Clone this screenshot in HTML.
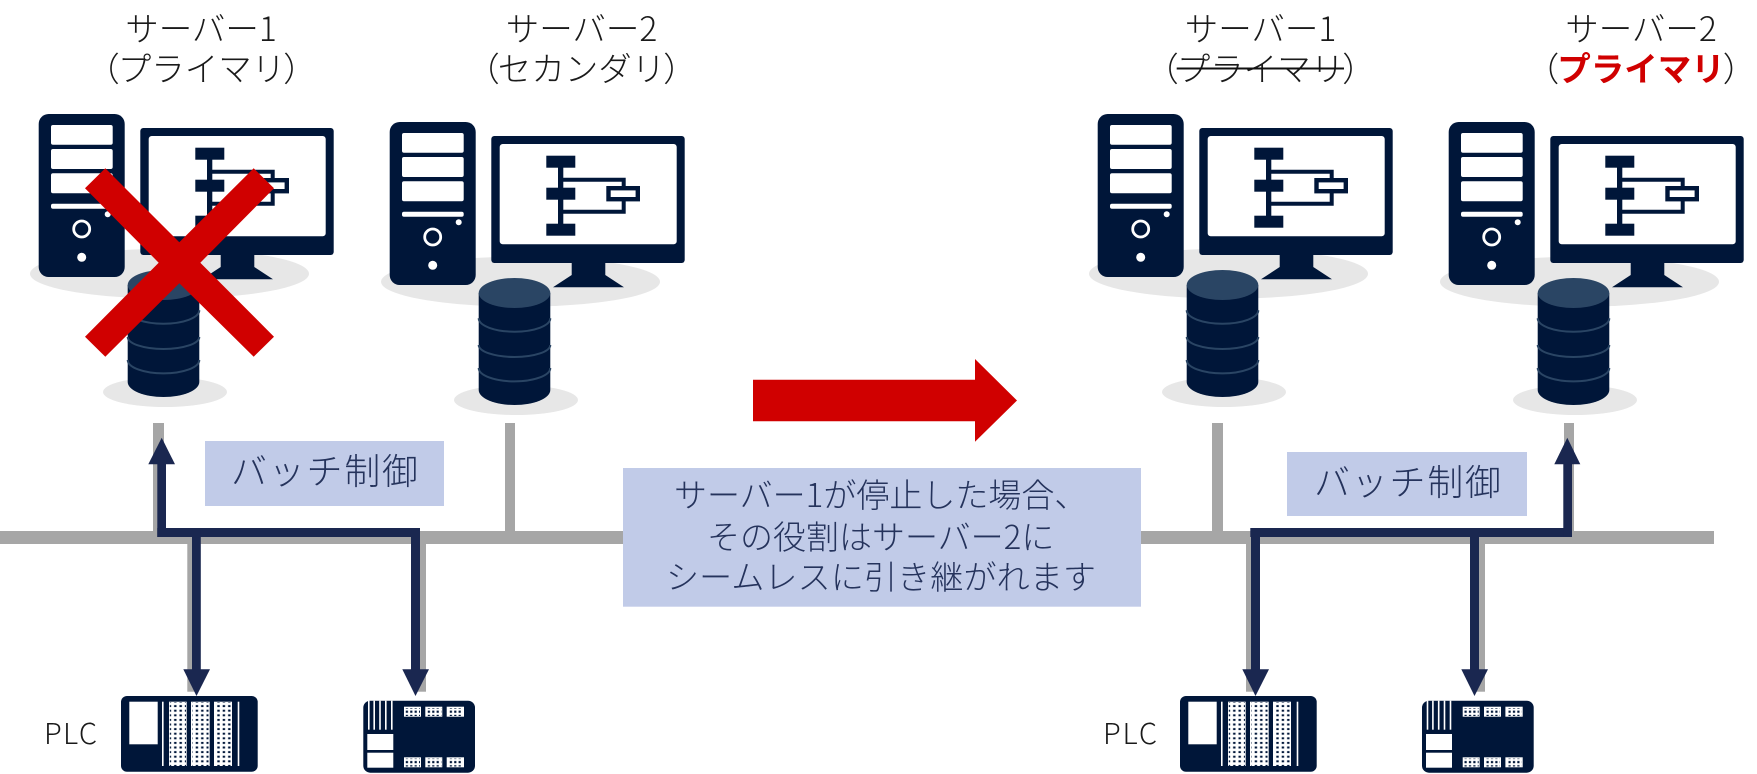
<!DOCTYPE html>
<html lang="ja"><head><meta charset="utf-8"><style>
html,body{margin:0;padding:0;background:#fff;width:1757px;height:774px;overflow:hidden}
svg{display:block}
text{font-family:"Noto Sans CJK JP","Liberation Sans",sans-serif;font-weight:300}
.t{font-size:33.5px;fill:#1a1a1a;text-anchor:middle}
.b{font-size:33px;fill:#25335c}
.c{font-size:36px;fill:#25335c}
</style></head><body>
<svg width="1757" height="774" viewBox="0 0 1757 774" xmlns="http://www.w3.org/2000/svg">
<defs>
<pattern id="g1" x="0" y="0" width="5.4" height="4.6" patternUnits="userSpaceOnUse"><rect x="1.3" y="1.3" width="2.4" height="2" fill="#001639"/></pattern>
<pattern id="g2" x="0" y="0" width="4.4" height="4.2" patternUnits="userSpaceOnUse"><rect x="1" y="0.8" width="2.2" height="2.2" fill="#001639"/></pattern>
<g id="srv">
<ellipse cx="169.5" cy="273.7" rx="139.5" ry="25" fill="#e7e7e7"/>
<ellipse cx="165" cy="392" rx="62" ry="15" fill="#e7e7e7"/>
<rect x="38.7" y="114" width="86" height="163" rx="10" fill="#001639"/>
<g fill="#fff">
<rect x="51" y="125" width="61.7" height="19.7" rx="2"/>
<rect x="51" y="149" width="61.7" height="20" rx="2"/>
<rect x="51" y="173.3" width="61.7" height="20" rx="2"/>
<rect x="51" y="203.7" width="61.7" height="5" rx="2"/>
<circle cx="107.7" cy="214.3" r="3"/>
<circle cx="81.7" cy="257.3" r="4.5"/>
</g>
<circle cx="81.7" cy="229" r="8" fill="none" stroke="#fff" stroke-width="2.8"/>
<rect x="140.3" y="128" width="193.4" height="127" rx="3" fill="#001639"/>
<path d="M220.7 255H254.3V267L273 279.3H202L220.7 267Z" fill="#001639"/>
<rect x="148.7" y="136" width="177" height="100.3" rx="3" fill="#fff"/>
<g fill="#001639">
<rect x="195.3" y="147.7" width="29" height="12"/>
<rect x="195.3" y="179.7" width="29" height="12"/>
<rect x="195.3" y="215.7" width="29" height="12"/>
<rect x="207" y="159" width="5.3" height="57"/>
</g>
<path d="M212 171.7H272.7V180M272.7 192V203.7H212" fill="none" stroke="#001639" stroke-width="4"/>
<rect x="257.5" y="180.2" width="29.3" height="11" fill="#fff" stroke="#001639" stroke-width="4.4"/>
<path d="M127.7 285V382A35.8 15 0 0 0 199.3 382V285Z" fill="#001639"/>
<ellipse cx="163.5" cy="285" rx="35.8" ry="15" fill="#2a4564"/>
<g fill="none" stroke="#2a4564" stroke-width="2">
<path d="M127.7 310.3A35.8 13.4 0 0 0 199.3 310.3"/>
<path d="M127.7 337A35.8 12 0 0 0 199.3 337"/>
<path d="M127.7 360A35.8 13.4 0 0 0 199.3 360"/>
</g>
</g>
<g id="plc1">
<rect x="121" y="696" width="136.7" height="75.7" rx="6" fill="#001639"/>
<g fill="#fff">
<rect x="129.3" y="701.7" width="28.4" height="42.6"/>
<rect x="162" y="701.7" width="1.6" height="64.3"/>
<rect x="169" y="701.7" width="17.7" height="64.3"/>
<rect x="191" y="701.7" width="18.7" height="64.3"/>
<rect x="214" y="701.7" width="18" height="64.3"/>
<rect x="237.7" y="701.7" width="1.6" height="64.3"/>
</g>
<rect x="169.8" y="702" width="16.2" height="64" fill="url(#g1)"/>
<rect x="192.3" y="702" width="16.2" height="64" fill="url(#g1)"/>
<rect x="215" y="702" width="16.2" height="64" fill="url(#g1)"/>
</g>
<g id="plc2">
<rect x="363.3" y="700.7" width="111.7" height="72" rx="7" fill="#001639"/>
<g fill="#fff">
<rect x="368" y="700.7" width="1.6" height="29"/>
<rect x="373.4" y="700.7" width="1.6" height="29"/>
<rect x="379.2" y="700.7" width="1.6" height="29"/>
<rect x="385" y="700.7" width="1.6" height="29"/>
<rect x="391" y="700.7" width="1.6" height="29"/>
<rect x="367.3" y="734" width="26" height="16"/>
<rect x="367.3" y="752.7" width="26" height="15"/>
<rect x="404" y="706.7" width="17" height="10"/>
<rect x="425.3" y="706.7" width="17" height="10"/>
<rect x="446.7" y="706.7" width="17.3" height="10"/>
<rect x="404" y="757.3" width="17" height="10"/>
<rect x="425.3" y="757.3" width="17" height="10"/>
<rect x="446.7" y="757.3" width="17.3" height="10"/>
</g>
<rect x="405" y="708" width="15" height="8" fill="url(#g2)"/>
<rect x="426.3" y="708" width="15" height="8" fill="url(#g2)"/>
<rect x="448" y="708" width="15" height="8" fill="url(#g2)"/>
<rect x="405" y="758.5" width="15" height="8" fill="url(#g2)"/>
<rect x="426.3" y="758.5" width="15" height="8" fill="url(#g2)"/>
<rect x="448" y="758.5" width="15" height="8" fill="url(#g2)"/>
</g>
</defs>

<!-- network -->
<g fill="#a6a6a6">
<rect x="0" y="531" width="1714" height="13"/>
<rect x="153" y="423" width="11" height="108"/>
<rect x="505" y="423" width="10" height="108"/>
<rect x="1212" y="423" width="11" height="108"/>
<rect x="1564" y="423" width="10" height="108"/>
<rect x="187.3" y="544" width="11" height="147.7"/>
<rect x="415" y="544" width="11" height="147.7"/>
<rect x="1246" y="544" width="11" height="147.7"/>
<rect x="1474" y="544" width="11" height="147.7"/>
</g>

<!-- servers -->
<use href="#srv"/>
<use href="#srv" transform="translate(351 8)"/>
<use href="#srv" transform="translate(1059 0)"/>
<use href="#srv" transform="translate(1410 8)"/>

<!-- PLCs -->
<use href="#plc1"/>
<use href="#plc2"/>
<use href="#plc1" transform="translate(1059 0)"/>
<use href="#plc2" transform="translate(1058.7 0)"/>

<!-- batch paths -->
<g fill="#1a2750">
<rect x="157.3" y="528" width="262.7" height="9"/>
<rect x="157.3" y="462" width="8.7" height="75"/>
<path d="M161.7 437.7L175 464.3H148.3Z"/>
<rect x="192" y="530" width="8.8" height="140"/>
<path d="M183.3 669.3H210L196.5 696Z"/>
<rect x="411" y="530" width="9" height="140"/>
<path d="M402.3 669.3H429L415.5 696Z"/>
<rect x="1250.3" y="528" width="321" height="9"/>
<rect x="1563.3" y="462" width="8.7" height="75"/>
<path d="M1567.3 437.7L1580.3 464.3H1554.3Z"/>
<rect x="1251" y="530" width="9" height="140"/>
<path d="M1242.3 669.3H1269L1255.5 696Z"/>
<rect x="1470" y="530" width="9" height="140"/>
<path d="M1461.3 669.3H1488L1474.5 696Z"/>
</g>

<!-- label boxes -->
<rect x="205" y="441" width="239" height="65" fill="#c1cbe8"/>
<rect x="1287" y="452" width="240" height="64" fill="#c1cbe8"/>
<rect x="623" y="468" width="518" height="138.7" fill="#c1cbe8"/>
<text class="c" x="231" y="484" textLength="187">バッチ制御</text>
<text class="c" x="1314" y="495" textLength="187">バッチ制御</text>
<text class="b" x="674" y="507">サーバー1が停止した場合、</text>
<text class="b" x="707" y="549">その役割はサーバー2に</text>
<text class="b" x="666" y="589" textLength="430">シームレスに引き継がれます</text>

<!-- titles -->
<text class="t" x="201" y="41">サーバー1</text>
<text class="t" x="201.5" y="81">（<tspan dx="-2">プライマリ</tspan><tspan dx="-2">）</tspan></text>
<text class="t" x="581.5" y="41">サーバー2</text>
<text class="t" x="581.5" y="81">（<tspan dx="-2">セカンダリ</tspan><tspan dx="-2">）</tspan></text>
<text class="t" x="1260.5" y="41">サーバー1</text>
<text class="t" x="1260.5" y="81">（<tspan dx="-2">プライマリ</tspan><tspan dx="-2">）</tspan></text>
<rect x="1176.7" y="67.5" width="167.3" height="2" fill="#111"/>
<text class="t" x="1641" y="41">サーバー2</text>
<text class="t" x="1641" y="81">（<tspan dx="-2" fill="#d00000" style="font-weight:700">プライマリ</tspan><tspan dx="-2">）</tspan></text>

<text x="44" y="744" style="font-size:29px;fill:#1a1a1a" textLength="53">PLC</text>
<text x="1103" y="744" style="font-size:29px;fill:#1a1a1a" textLength="54">PLC</text>

<!-- red marks -->
<path d="M105.3 168.3L179.3 242.3L253.7 168.3L274 188.3L200.3 262.7L274 336.7L253.7 356.7L179.3 283.3L105.3 356.7L85 336.7L158.7 262.7L85 188.3Z" fill="#d00000"/>
<path d="M753 379.7H975V359L1017 400.5L975 441.7V421.3H753Z" fill="#d00000"/>
</svg>
</body></html>
